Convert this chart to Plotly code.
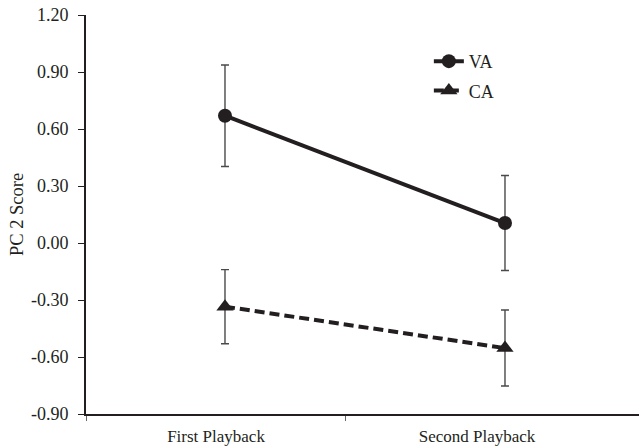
import plotly.graph_objects as go

categories = ["First Playback", "Second Playback"]
series_names = ["VA", "CA"]
va_values = [0.67, 0.105]
va_errors = [0.267, 0.25]
ca_values = [-0.335, -0.553]
ca_errors = [0.195, 0.2]
y_tick_values = [-0.90, -0.60, -0.30, 0.00, 0.30, 0.60, 0.90, 1.20]
y_tick_labels = ["-0.90", "-0.60", "-0.30", "0.00", "0.30", "0.60", "0.90", "1.20"]

x_idx = list(range(len(categories)))
ink = "#231f20"
font_family = "Liberation Serif, Times New Roman, serif"

fig = go.Figure()
fig.add_trace(go.Scatter(
    x=x_idx, y=va_values, name=series_names[0], mode="lines+markers",
    line=dict(color=ink, width=4),
    marker=dict(symbol="circle", size=14, color=ink),
    error_y=dict(type="data", array=va_errors, visible=True, color="#4a4a4a", thickness=1.4, width=4),
    legendgroup="a",
))
fig.add_trace(go.Scatter(
    x=x_idx, y=ca_values, name=series_names[1], mode="lines+markers",
    line=dict(color=ink, width=4, dash="10px,5px"),
    marker=dict(symbol="triangle-up", size=15, color=ink),
    error_y=dict(type="data", array=ca_errors, visible=True, color="#4a4a4a", thickness=1.4, width=4),
    legendgroup="b",
))

fig.update_layout(
    width=639, height=447,
    margin=dict(l=86, r=0, t=15, b=33),
    paper_bgcolor="white", plot_bgcolor="white",
    font=dict(family=font_family, size=18, color=ink),
    showlegend=True,
    legend=dict(x=0.62, y=0.93, xanchor="left", yanchor="top",
                bgcolor="rgba(0,0,0,0)", font=dict(size=18),
                tracegroupgap=3),
)
fig.update_xaxes(
    range=[-0.4964, 1.4786],
    tickmode="array", tickvals=[-0.032, 0.9], ticktext=categories,
    ticks="", showgrid=False, zeroline=False,
    showline=True, linecolor=ink, linewidth=2,
    minor=dict(tickmode="array", tickvals=[-0.4964, 0.432], ticks="outside",
               ticklen=5, tickwidth=1, tickcolor="#666666", showgrid=False),
    tickfont=dict(size=17),
    ticklabelstandoff=6,
)
fig.update_yaxes(
    range=[-0.90, 1.20],
    tickmode="array", tickvals=y_tick_values, ticktext=y_tick_labels,
    ticks="outside", ticklen=6, tickwidth=1, tickcolor=ink,
    showgrid=False, zeroline=False,
    showline=True, linecolor=ink, linewidth=2,
    title=dict(text="PC 2 Score", font=dict(size=18.5), standoff=2),
    tickfont=dict(size=18),
    ticklabelstandoff=6,
    ticklabeloverflow="allow",
)

fig.write_html("out.html",
               config={"displayModeBar": False},
               post_script="document.body.style.margin='0px';document.body.style.overflow='hidden';")
